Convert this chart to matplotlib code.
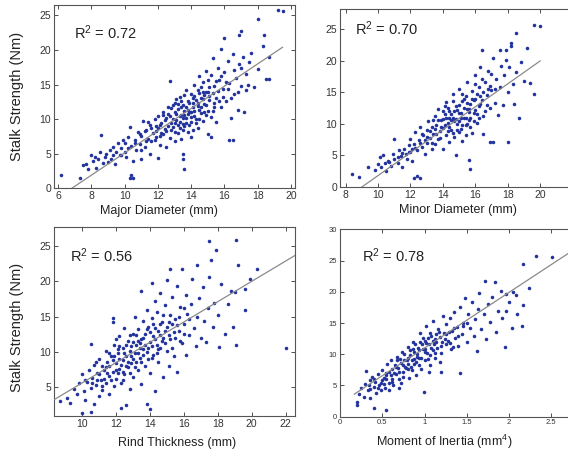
import numpy as np
import matplotlib
matplotlib.use('Agg')
import matplotlib.pyplot as plt

plt.rcParams['font.family'] = ['Liberation Sans', 'DejaVu Sans']
plt.rcParams['mathtext.default'] = 'regular'

# Points (x, stalk strength in Nm)
major_pts = [
    (6.2, 2.0), (7.3, 1.5), (7.5, 3.4), (7.7, 3.5), (7.8, 2.8), (8.0, 4.8), (8.1, 3.9), (8.2, 4.5), (8.3, 3.0),
    (8.4, 4.2), (8.6, 7.7), (8.5, 5.3), (8.7, 3.7), (8.8, 4.6), (8.9, 5.0), (9.0, 3.8), (9.1, 5.6), (9.2, 4.3),
    (9.3, 6.0), (9.4, 3.6), (9.5, 5.2), (9.6, 6.5), (9.7, 4.8), (9.8, 5.9), (9.9, 7.0), (10.0, 5.3), (10.0, 6.6),
    (10.1, 4.6), (10.2, 7.4), (10.3, 1.5), (10.4, 2.0), (10.5, 1.5), (10.3, 8.9), (10.4, 6.2), (10.5, 3.9),
    (10.6, 7.0), (10.7, 5.6), (10.8, 8.2), (10.9, 6.4), (11.0, 4.3), (11.0, 7.6), (11.1, 9.8), (11.2, 6.0),
    (11.3, 8.5), (11.4, 7.2), (11.5, 5.0), (11.5, 9.2), (11.6, 6.8), (11.7, 8.0), (11.8, 10.0), (11.9, 7.5),
    (12.0, 4.4), (12.0, 8.8), (12.1, 6.3), (12.2, 9.5), (12.3, 7.8), (12.3, 11.0), (12.4, 8.6), (12.5, 6.0),
    (12.5, 10.2), (12.6, 9.0), (12.7, 15.5), (12.7, 7.3), (12.8, 11.6), (12.8, 8.4), (12.9, 10.0), (13.0, 6.8),
    (13.0, 9.4), (13.0, 12.4), (13.1, 10.8), (13.2, 8.0), (13.2, 11.5), (13.3, 13.2), (13.3, 9.6), (13.4, 10.6),
    (13.4, 7.2), (13.5, 4.3), (13.5, 5.0), (13.6, 2.8), (13.5, 12.0), (13.6, 9.0), (13.6, 11.2), (13.7, 14.2),
    (13.7, 10.2), (13.8, 8.2), (13.8, 12.6), (13.9, 11.0), (14.0, 9.6), (14.0, 13.6), (14.0, 7.5), (14.1, 11.8),
    (14.2, 15.0), (14.2, 10.4), (14.3, 12.8), (14.4, 8.8), (14.4, 14.2), (14.5, 11.4), (14.5, 16.2), (14.6, 13.0),
    (14.7, 9.8), (14.7, 15.4), (14.8, 12.2), (14.9, 17.0), (14.9, 10.6), (15.0, 14.0), (15.0, 7.8), (15.1, 12.8),
    (15.2, 7.5), (15.2, 16.4), (15.3, 11.2), (15.3, 18.8), (15.4, 14.8), (15.5, 13.0), (15.5, 9.6), (15.6, 17.4),
    (15.7, 15.6), (15.8, 20.2), (15.8, 11.8), (15.9, 14.4), (16.0, 21.7), (16.0, 16.8), (16.1, 12.6), (16.2, 18.4),
    (16.3, 7.0), (16.3, 15.2), (16.4, 10.2), (16.5, 7.0), (16.5, 19.4), (16.6, 13.6), (16.7, 16.0), (16.8, 11.4),
    (16.9, 22.2), (16.9, 18.0), (17.0, 22.8), (17.0, 14.8), (17.1, 19.0), (17.2, 11.0), (17.3, 14.2), (17.3, 16.6),
    (17.5, 18.2), (17.6, 19.5), (17.8, 14.7), (18.0, 24.5), (18.0, 17.2), (18.3, 20.6), (18.4, 22.2), (18.5, 15.8),
    (18.7, 15.8), (18.7, 19.0), (19.2, 25.8), (19.5, 25.7),
    (12.0, 10.5), (12.2, 8.0), (12.4, 9.9), (12.6, 11.8), (12.9, 8.9), (13.1, 12.9), (13.2, 9.2), (13.4, 11.7),
    (13.5, 8.5), (13.6, 13.5), (13.8, 10.7), (13.9, 9.1), (14.0, 11.0), (14.1, 12.3), (14.3, 10.1), (14.4, 11.9),
    (14.6, 10.9), (14.6, 14.6), (14.8, 13.5), (14.9, 12.0), (15.1, 14.6), (15.2, 10.3), (15.4, 12.4), (15.6, 14.1),
    (15.8, 16.2), (11.3, 6.9), (11.6, 8.7), (11.8, 7.0), (12.1, 9.2), (10.9, 7.8), (10.6, 6.5), (11.4, 9.6),
    (12.7, 10.4), (13.0, 11.0), (13.3, 10.4), (13.7, 11.8), (14.2, 13.4), (14.7, 12.9), (15.0, 15.6), (15.9, 13.2),
    (16.2, 14.3), (16.6, 17.1), (17.0, 17.4), (17.4, 15.0),
    (11.9, 8.3), (12.1, 7.6), (12.3, 10.6), (12.5, 8.3), (12.6, 10.7), (12.8, 9.5), (12.9, 12.0), (13.0, 8.1),
    (13.1, 9.9), (13.2, 12.2), (13.3, 8.7), (13.4, 12.6), (13.5, 10.2), (13.5, 9.3), (13.6, 10.6), (13.7, 9.4),
    (13.8, 11.4), (13.9, 12.4), (14.0, 10.3), (14.1, 8.4), (14.1, 13.0), (14.2, 11.2), (14.3, 9.4), (14.4, 12.4),
    (14.5, 10.1), (14.5, 13.8), (14.6, 11.7), (14.7, 14.0), (14.8, 11.0), (14.9, 13.9), (15.0, 11.2), (15.1, 13.4),
    (15.3, 13.8), (15.4, 11.7), (15.5, 15.5), (15.7, 12.6), (16.1, 15.4), (11.0, 5.6), (11.2, 8.3), (11.9, 9.0),
    (10.2, 5.8), (9.8, 4.9), (9.3, 4.8), (16.4, 13.0), (16.8, 14.0),
]

minor_pts = [
    (8.4, 2.0), (8.8, 1.6), (9.4, 3.1), (9.8, 2.7), (10.0, 3.6), (10.1, 4.8), (10.2, 3.2), (10.3, 5.0), (10.4, 3.8),
    (10.5, 2.6), (10.6, 4.2), (10.8, 3.4), (10.9, 5.2), (11.0, 7.6), (11.0, 4.5), (11.2, 3.8), (11.3, 5.8),
    (11.4, 4.9), (11.5, 3.2), (11.6, 6.1), (11.7, 5.3), (11.8, 4.4), (11.9, 6.6), (12.0, 5.5), (12.0, 7.6),
    (12.1, 4.1), (12.2, 1.5), (12.4, 1.8), (12.6, 1.5), (12.2, 6.9), (12.3, 8.8), (12.4, 5.8), (12.5, 7.4),
    (12.6, 9.6), (12.7, 6.4), (12.8, 8.2), (12.9, 5.2), (13.0, 9.0), (13.0, 7.0), (13.1, 10.4), (13.2, 7.8),
    (13.3, 6.1), (13.3, 9.5), (13.4, 8.4), (13.5, 11.2), (13.5, 6.8), (13.6, 9.9), (13.7, 7.6), (13.7, 12.4),
    (13.8, 8.9), (13.9, 10.7), (14.0, 6.0), (14.0, 9.4), (14.1, 11.6), (14.2, 8.2), (14.2, 13.5), (14.3, 10.2),
    (14.4, 7.2), (14.4, 12.1), (14.5, 9.0), (14.6, 11.0), (14.6, 14.7), (14.7, 8.0), (14.8, 5.0), (14.8, 12.9),
    (14.9, 10.0), (15.0, 11.8), (15.0, 15.6), (15.1, 9.2), (15.2, 13.6), (15.2, 7.3), (15.3, 11.0), (15.4, 14.4),
    (15.4, 9.8), (15.5, 12.3), (15.5, 16.6), (15.6, 4.3), (15.7, 2.8), (15.6, 10.6), (15.7, 13.2), (15.8, 15.2),
    (15.8, 8.6), (15.9, 11.8), (16.0, 14.0), (16.0, 17.8), (16.1, 10.2), (16.2, 12.8), (16.2, 15.8), (16.3, 19.0),
    (16.4, 21.7), (16.4, 13.8), (16.5, 8.4), (16.5, 11.2), (16.6, 16.6), (16.7, 14.6), (16.8, 18.4), (16.9, 7.2),
    (16.9, 12.6), (17.0, 15.4), (17.1, 7.2), (17.1, 20.4), (17.2, 13.4), (17.3, 17.2), (17.4, 11.4), (17.5, 21.7),
    (17.5, 15.8), (17.6, 19.2), (17.7, 13.0), (17.8, 17.8), (17.9, 21.7), (17.9, 20.1), (18.0, 7.2), (18.0, 15.0),
    (18.1, 19.0), (18.2, 22.8), (18.2, 22.3), (18.3, 16.4), (18.4, 13.2), (18.5, 24.4), (18.5, 18.2), (18.7, 11.0),
    (18.8, 19.8), (19.0, 16.8), (19.2, 22.0), (19.4, 16.5), (19.6, 14.7), (19.6, 25.7), (20.0, 25.6),
    (14.0, 10.8), (14.3, 8.9), (14.5, 11.6), (14.7, 10.4), (14.9, 12.2), (15.0, 8.8), (15.1, 10.9), (15.3, 12.6),
    (15.4, 8.2), (15.6, 11.9), (15.7, 9.6), (15.9, 13.8), (16.1, 11.6), (16.3, 14.4), (16.6, 12.0), (16.8, 15.6),
    (13.6, 8.4), (13.9, 9.6), (13.2, 8.9), (12.9, 7.4), (13.4, 10.6), (14.1, 12.9), (14.6, 13.6), (15.2, 14.8),
    (16.0, 16.4), (16.4, 17.2), (17.0, 18.0), (12.1, 6.0), (11.5, 5.4), (12.7, 8.4),
    (13.5, 9.2), (13.7, 10.6), (13.8, 7.8), (14.0, 12.0), (14.1, 9.9), (14.2, 10.9), (14.3, 12.6), (14.4, 9.6),
    (14.5, 10.6), (14.6, 8.6), (14.7, 12.0), (14.8, 10.8), (14.9, 9.0), (15.0, 10.4), (15.0, 13.0), (15.1, 11.8),
    (15.2, 9.8), (15.3, 13.9), (15.4, 11.0), (15.5, 10.0), (15.5, 13.4), (15.6, 12.4), (15.7, 11.0), (15.8, 14.0),
    (15.9, 10.4), (16.0, 12.2), (16.1, 14.8), (16.2, 11.0), (16.3, 13.2), (16.5, 15.0), (16.7, 13.0), (16.9, 16.0),
    (17.2, 15.6), (13.0, 8.0), (12.6, 7.0), (12.3, 6.2), (11.9, 5.6), (11.2, 4.8), (10.7, 3.9), (13.3, 7.0),
    (14.4, 11.0),
]

rind_pts = [
    (8.7, 3.1), (9.1, 3.4), (9.3, 2.8), (9.5, 4.8), (9.7, 4.0), (9.8, 5.6), (10.0, 1.3), (10.0, 6.8), (10.1, 4.4),
    (10.2, 3.2), (10.3, 5.8), (10.4, 7.5), (10.5, 1.5), (10.5, 11.1), (10.5, 4.9), (10.6, 6.3), (10.7, 2.6),
    (10.7, 8.2), (10.8, 5.3), (10.9, 7.0), (11.0, 3.8), (11.0, 9.0), (11.1, 6.0), (11.2, 8.0), (11.2, 4.6),
    (11.3, 7.4), (11.4, 10.2), (11.4, 5.6), (11.5, 8.6), (11.6, 6.6), (11.6, 4.0), (11.7, 9.4), (11.8, 14.8),
    (11.8, 14.3), (11.8, 7.2), (11.9, 11.0), (11.9, 5.2), (12.0, 8.4), (12.0, 6.2), (12.1, 9.8), (12.2, 7.6),
    (12.2, 12.2), (12.3, 2.0), (12.3, 5.6), (12.4, 10.6), (12.4, 8.8), (12.5, 6.8), (12.5, 13.4), (12.6, 2.5),
    (12.6, 9.4), (12.7, 7.8), (12.7, 11.6), (12.8, 4.8), (12.8, 10.2), (12.9, 8.4), (13.0, 12.6), (13.0, 6.4),
    (13.1, 9.8), (13.1, 15.0), (13.2, 11.0), (13.3, 7.4), (13.3, 13.2), (13.4, 9.2), (13.5, 18.7), (13.5, 11.8),
    (13.5, 5.4), (13.6, 14.4), (13.6, 10.4), (13.7, 8.0), (13.7, 12.6), (13.8, 2.6), (13.8, 16.0), (13.8, 10.0),
    (13.9, 13.6), (14.0, 1.9), (14.0, 11.4), (14.0, 7.0), (14.1, 19.8), (14.1, 14.8), (14.2, 9.6), (14.2, 12.2),
    (14.3, 17.2), (14.3, 4.4), (14.4, 11.0), (14.4, 15.6), (14.5, 13.0), (14.5, 8.6), (14.6, 18.4), (14.6, 10.6),
    (14.7, 14.2), (14.8, 12.0), (14.8, 6.4), (14.9, 16.6), (15.0, 20.2), (15.0, 10.2), (15.0, 13.6), (15.1, 8.0),
    (15.2, 21.7), (15.2, 15.2), (15.2, 11.8), (15.3, 17.8), (15.4, 12.8), (15.4, 9.4), (15.5, 14.6), (15.6, 19.4),
    (15.6, 7.2), (15.7, 13.0), (15.8, 16.4), (15.9, 21.7), (15.9, 11.2), (16.0, 14.0), (16.1, 18.0), (16.1, 9.6),
    (16.2, 15.4), (16.3, 12.4), (16.4, 16.8), (16.5, 20.4), (16.6, 13.4), (16.7, 10.8), (16.8, 22.3), (16.8, 15.0),
    (16.9, 17.6), (17.0, 12.0), (17.1, 19.2), (17.2, 14.4), (17.3, 11.4), (17.4, 16.2), (17.5, 25.7), (17.5, 20.6),
    (17.6, 23.0), (17.7, 13.6), (17.8, 17.0), (17.9, 24.4), (18.0, 15.2), (18.1, 10.7), (18.2, 19.6), (18.4, 12.6),
    (18.6, 16.8), (18.8, 18.7), (18.9, 13.6), (19.0, 18.5), (19.1, 11.0), (19.1, 25.8), (19.2, 22.3), (19.6, 15.9),
    (19.6, 18.9), (19.9, 20.3), (20.3, 21.8), (22.0, 10.6),
    (11.3, 6.2), (11.5, 7.0), (11.8, 8.8), (12.0, 7.4), (12.1, 10.4), (12.3, 8.2), (12.4, 6.0), (12.6, 8.0),
    (12.9, 10.8), (13.0, 9.0), (13.2, 8.6), (13.4, 10.6), (13.6, 12.0), (13.9, 9.0), (14.1, 10.8), (14.3, 13.4),
    (14.6, 12.4), (14.9, 11.2), (15.1, 14.2), (15.3, 10.6), (15.6, 13.8), (15.8, 11.6), (16.0, 16.2), (16.3, 14.6),
    (12.2, 9.0), (11.6, 9.8), (10.9, 6.0), (10.6, 5.6), (12.8, 12.4), (13.3, 11.6), (14.4, 9.8), (14.8, 15.2),
    (11.0, 6.8), (11.2, 5.2), (11.4, 7.8), (11.6, 8.0), (11.7, 6.0), (11.9, 9.4), (12.0, 11.8), (12.1, 7.0),
    (12.2, 10.8), (12.4, 7.2), (12.5, 9.8), (12.6, 11.0), (12.7, 8.6), (12.8, 7.0), (12.9, 9.4), (13.0, 11.4),
    (13.1, 7.8), (13.2, 12.4), (13.3, 9.8), (13.4, 11.2), (13.5, 8.6), (13.6, 9.6), (13.7, 11.0), (13.8, 13.2),
    (13.9, 10.6), (14.0, 12.8), (14.1, 9.2), (14.2, 14.0), (14.3, 11.8), (14.5, 10.4), (14.6, 14.0), (14.7, 11.6),
    (14.9, 13.0), (15.1, 12.4), (15.3, 14.0), (15.5, 12.0), (15.7, 15.0), (16.0, 12.6), (10.8, 8.6), (10.2, 6.0),
]

moi_pts = [
    (0.20, 1.8), (0.20, 2.4), (0.22, 3.6), (0.25, 4.6), (0.28, 3.2), (0.30, 5.2), (0.31, 7.3), (0.33, 4.2),
    (0.35, 5.8), (0.36, 3.0), (0.38, 6.4), (0.40, 1.4), (0.40, 4.8), (0.42, 5.6), (0.43, 3.8), (0.45, 6.8),
    (0.46, 5.0), (0.48, 4.2), (0.50, 7.4), (0.50, 5.8), (0.52, 6.2), (0.53, 4.6), (0.55, 1.1), (0.55, 7.0),
    (0.56, 8.4), (0.58, 5.4), (0.60, 6.6), (0.60, 9.0), (0.62, 7.6), (0.63, 5.0), (0.65, 8.2), (0.66, 6.8),
    (0.68, 9.6), (0.70, 7.2), (0.70, 4.6), (0.72, 8.6), (0.73, 10.4), (0.75, 6.4), (0.76, 9.0), (0.78, 7.8),
    (0.80, 11.2), (0.80, 8.4), (0.82, 6.2), (0.83, 9.8), (0.85, 7.4), (0.86, 12.0), (0.88, 10.4), (0.90, 8.8),
    (0.90, 6.6), (0.92, 11.0), (0.93, 9.4), (0.95, 13.4), (0.96, 7.6), (0.98, 10.8), (0.99, 4.0), (1.00, 12.2),
    (1.00, 9.0), (1.02, 14.6), (1.03, 10.2), (1.05, 11.6), (1.06, 8.2), (1.08, 13.0), (1.10, 10.6), (1.10, 15.4),
    (1.12, 12.4), (1.13, 9.4), (1.15, 11.0), (1.16, 14.0), (1.18, 12.8), (1.20, 7.1), (1.20, 10.2), (1.22, 16.2),
    (1.23, 13.4), (1.25, 11.6), (1.26, 14.8), (1.28, 12.2), (1.30, 15.8), (1.31, 10.8), (1.33, 13.8), (1.35, 16.8),
    (1.36, 12.6), (1.38, 14.4), (1.40, 11.4), (1.42, 7.0), (1.42, 17.6), (1.44, 13.2), (1.46, 15.0), (1.48, 19.0),
    (1.50, 12.0), (1.52, 16.4), (1.54, 14.2), (1.56, 18.4), (1.58, 13.0), (1.60, 15.6), (1.62, 10.5), (1.63, 17.2),
    (1.65, 19.8), (1.67, 14.0), (1.70, 16.4), (1.72, 21.7), (1.73, 12.4), (1.75, 18.0), (1.78, 15.2), (1.80, 19.2),
    (1.83, 21.5), (1.85, 13.6), (1.87, 17.0), (1.90, 20.2), (1.92, 15.8), (1.95, 11.2), (1.97, 19.7), (1.97, 16.9),
    (2.00, 18.4), (2.03, 14.2), (2.05, 20.0), (2.08, 19.5), (2.10, 16.4), (2.15, 14.5), (2.17, 17.9), (2.17, 24.5),
    (2.24, 20.6), (2.32, 25.8), (2.51, 25.6),
    (0.55, 6.0), (0.62, 5.6), (0.66, 8.0), (0.70, 6.0), (0.74, 7.2), (0.77, 8.0), (0.81, 9.4), (0.84, 8.0),
    (0.87, 9.2), (0.91, 10.0), (0.94, 8.2), (0.97, 11.6), (1.01, 10.8), (1.04, 12.6), (1.07, 9.8), (1.11, 11.6),
    (1.14, 13.2), (1.19, 11.4), (1.24, 12.4), (1.29, 13.6), (0.45, 4.6), (0.52, 5.2), (0.86, 10.8), (0.95, 12.0),
    (1.05, 7.2), (1.34, 11.2), (1.18, 8.8), (0.72, 5.4),
    (0.48, 5.4), (0.54, 6.6), (0.58, 7.2), (0.61, 6.0), (0.64, 7.0), (0.67, 9.0), (0.69, 7.8), (0.71, 9.2),
    (0.74, 8.2), (0.76, 10.0), (0.79, 9.0), (0.81, 7.6), (0.83, 10.6), (0.85, 9.0), (0.88, 8.4), (0.89, 11.6),
    (0.91, 9.6), (0.93, 10.6), (0.96, 9.4), (0.98, 12.6), (1.00, 10.4), (1.02, 11.8), (1.04, 9.2), (1.06, 13.4),
    (1.08, 11.0), (1.10, 12.2), (1.12, 10.2), (1.14, 12.0), (1.17, 13.6), (1.21, 12.0), (1.26, 13.2), (1.30, 11.8),
    (1.35, 14.2), (1.40, 13.0), (1.45, 14.6), (0.36, 4.4), (0.40, 6.0), (0.34, 5.0), (0.58, 4.2), (1.50, 15.0),
]

# regression lines: slope, intercept, x start, x end
fit_major = (1.606, -10.92, 6.8, 19.5)
fit_minor = (1.818, -16.36, 9.0, 20.0)
fit_rind = (1.44, -8.8, 8.35, 22.55)
fit_moi = (8.9, 2.1, 0.17, 2.9)

r2_values = ['0.72', '0.70', '0.56', '0.78']
x_labels = ['Major Diameter (mm)', 'Minor Diameter (mm)', 'Rind Thickness (mm)', 'Moment of Inertia (mm$^4$)']
y_label = 'Stalk Strength (Nm)'

dot_color = '#23339e'
line_color = '#8a8a8a'

fig = plt.figure(figsize=(5.68, 4.53), dpi=100)
fig.patch.set_facecolor('white')

# axes boxes (the right column runs past the edge of the figure, as in the original)
positions = [
    [0.0951, 0.5839, 0.4243, 0.4051],
    [0.5986, 0.5872, 0.4236, 0.3923],
    [0.0951, 0.0806, 0.4243, 0.4183],
    [0.5986, 0.0801, 0.4463, 0.4137],
]
xlims = [(5.75, 20.25), (7.65, 22.5), (8.35, 22.55), (0, 3)]
ylims = [(0, 26.5), (0, 28.2), (0.85, 27.7), (0, 30)]
xticks = [np.arange(6, 21, 2), np.arange(8, 21, 2), np.arange(10, 23, 2), np.arange(0, 2.51, 0.5)]
yticks = [np.arange(0, 26, 5), np.arange(0, 26, 5), np.arange(5, 26, 5), np.arange(0, 31, 5)]
tick_sizes = [7.5, 7.5, 7.5, 5.5]
r2_pos = [(0.083, 0.85), (0.062, 0.89), (0.066, 0.85), (0.088, 0.86)]
xlabel_pos = [(0.434, -0.12), (0.49, -0.13), (0.512, -0.14), (0.41, -0.133)]

panels = [major_pts, minor_pts, rind_pts, moi_pts]
fits = [fit_major, fit_minor, fit_rind, fit_moi]

for i in range(4):
    ax = fig.add_axes(positions[i])
    pts = np.array(panels[i])
    ax.scatter(pts[:, 0], pts[:, 1], s=6.5, color=dot_color, linewidths=0, zorder=2)

    slope, icpt, x0, x1 = fits[i]
    xs = np.array([x0, x1])
    ax.plot(xs, slope * xs + icpt, color=line_color, lw=0.9, zorder=3)

    ax.set_xlim(*xlims[i])
    ax.set_ylim(*ylims[i])
    ax.set_xticks(xticks[i])
    ax.set_yticks(yticks[i])
    ax.xaxis.set_major_formatter(plt.FuncFormatter(lambda v, p: ('%g' % v)))
    ax.tick_params(direction='in', length=3, width=0.6, pad=2, top=True, right=True,
                   labelsize=tick_sizes[i], colors='#333333')
    for sp in ax.spines.values():
        sp.set_color('#555555')
        sp.set_linewidth(0.8)

    ax.text(r2_pos[i][0], r2_pos[i][1], 'R$^2$ = ' + r2_values[i], transform=ax.transAxes,
            ha='left', va='center', fontsize=10.5, color='#222222')

    ax.set_xlabel(x_labels[i], fontsize=9, color='#222222')
    ax.xaxis.label.set_va('center')
    ax.xaxis.set_label_coords(*xlabel_pos[i])

    if i in (0, 2):
        ax.set_ylabel(y_label, fontsize=10.5, color='#222222')
        ax.yaxis.label.set_va('center')
        ax.yaxis.set_label_coords(-0.154, 0.5 if i == 0 else 0.47)

fig.savefig('out.png', dpi=100)
